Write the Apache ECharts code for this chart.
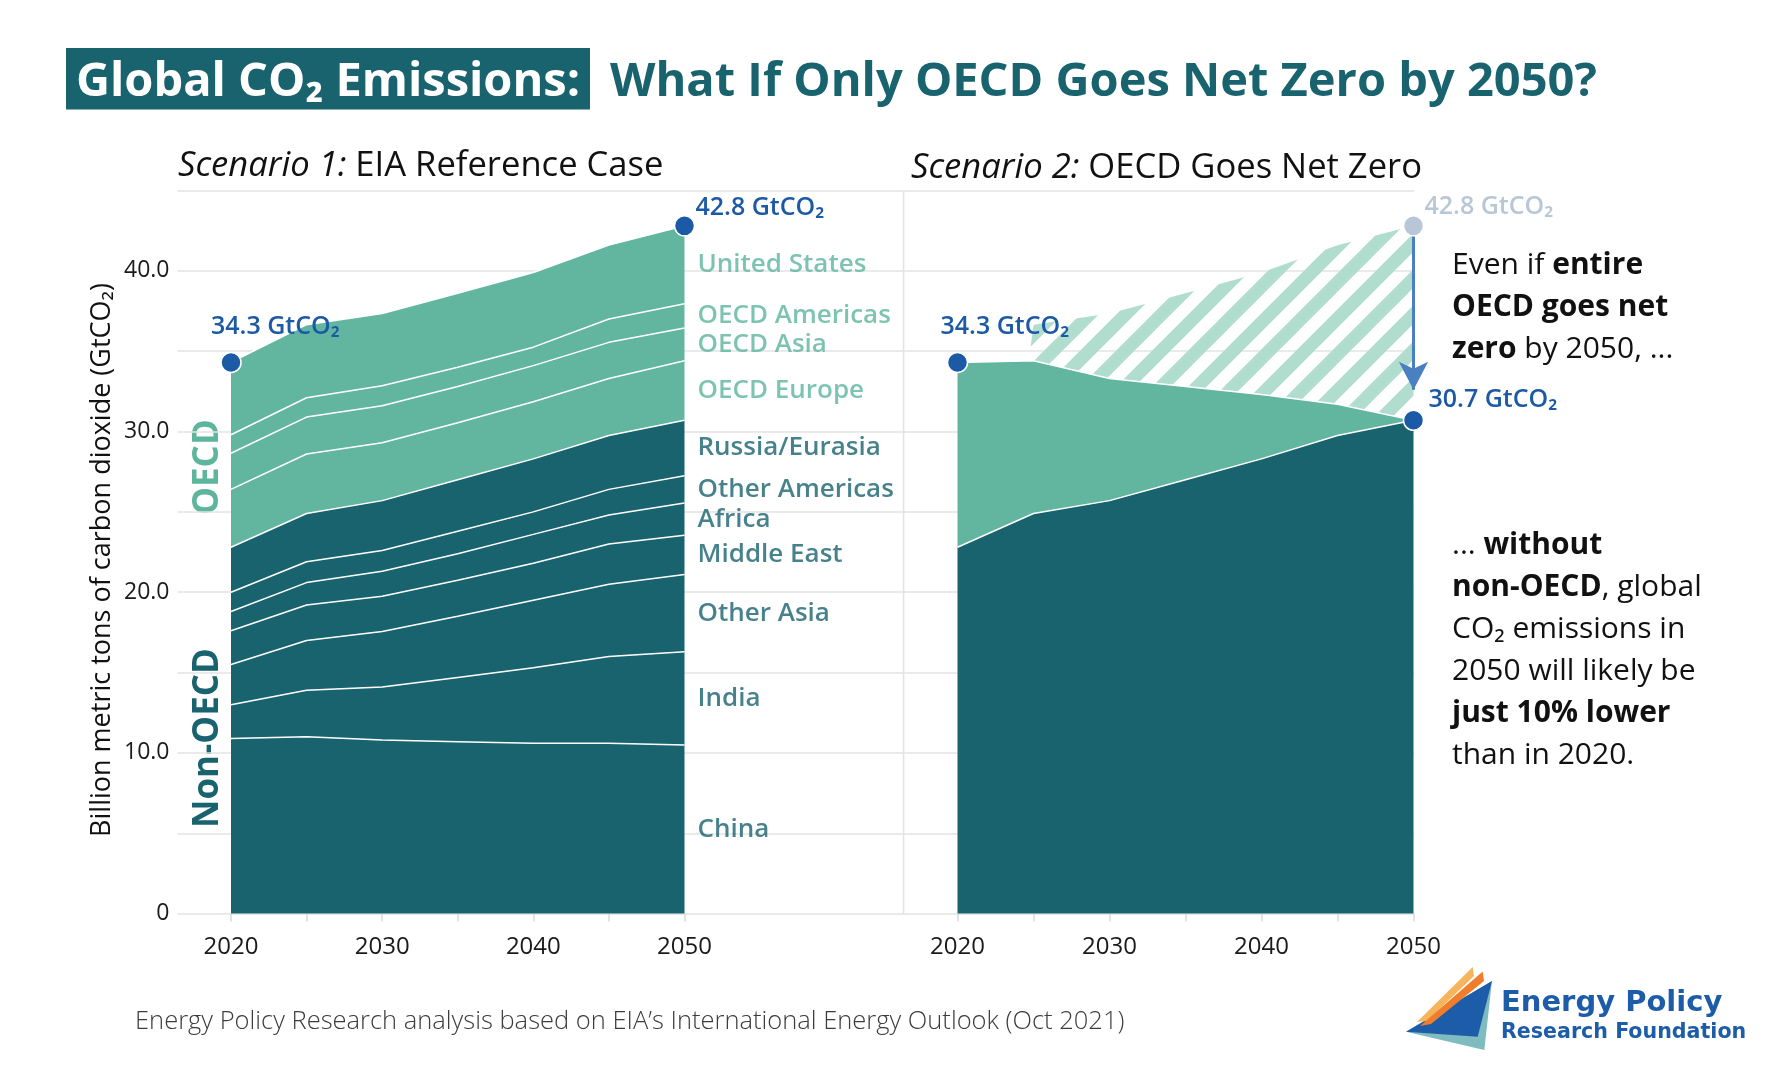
<!DOCTYPE html>
<html>
<head>
<meta charset="utf-8">
<title>Global CO2 Emissions: What If Only OECD Goes Net Zero by 2050?</title>
<script src="https://cdn.jsdelivr.net/npm/echarts@6/dist/echarts.min.js"></script>
<style>
html, body { margin: 0; padding: 0; background: #fff; }
#chart { width: 1786px; height: 1080px; }
</style>
</head>
<body>
<div id="chart"></div>
<script>
// x axis: EIA projection years
var years = ['2020', '2025', '2030', '2035', '2040', '2045', '2050'];
var yTickLabels = ['0', '10.0', '20.0', '30.0', '40.0'];

// Scenario 1 (EIA reference case), GtCO2, stacked bottom to top
var china         = [10.9, 11.0, 10.8, 10.7, 10.6, 10.6, 10.5];
var india         = [2.1, 2.9, 3.3, 4.0, 4.7, 5.4, 5.8];
var otherAsia     = [2.5, 3.1, 3.45, 3.8, 4.2, 4.5, 4.8];
var middleEast    = [2.1, 2.2, 2.2, 2.25, 2.3, 2.5, 2.45];
var africa        = [1.2, 1.4, 1.55, 1.65, 1.8, 1.8, 2.0];
var otherAmericas = [1.2, 1.3, 1.3, 1.4, 1.4, 1.6, 1.7];
var russiaEurasia = [2.8, 3.0, 3.1, 3.2, 3.3, 3.35, 3.45];
var oecdEurope    = [3.6, 3.7, 3.6, 3.55, 3.55, 3.55, 3.7];
var oecdAsia      = [2.25, 2.3, 2.3, 2.25, 2.25, 2.25, 2.05];
var oecdAmericas  = [1.15, 1.2, 1.25, 1.2, 1.15, 1.45, 1.5];
var unitedStates  = [4.5, 4.55, 4.5, 4.6, 4.65, 4.6, 4.85];

var regionNames = ['China', 'India', 'Other Asia', 'Middle East', 'Africa', 'Other Americas',
  'Russia/Eurasia', 'OECD Europe', 'OECD Asia', 'OECD Americas', 'United States'];
var isOecd = [false, false, false, false, false, false, false, true, true, true, true];

// Scenario 2: OECD emissions falling to net zero by 2050
var oecdNetZero = [11.5, 9.5, 7.6, 5.8, 4.0, 1.95, 0];

// callout values
var total2020 = 34.3;
var total2050 = 42.8;
var netZero2050 = 30.7;

var DARK = '#19636f', LIGHT = '#62b6a0', BLUE = '#1c5aa6', GREY = '#b8c7d7';
var FONT = '"Open Sans", "Noto Sans", sans-serif';

var regions = [china, india, otherAsia, middleEast, africa, otherAmericas,
  russiaEurasia, oecdEurope, oecdAsia, oecdAmericas, unitedStates];
var first = 0, last = years.length - 1;

var nonOecd = years.map(function (y, i) {
  var s = 0;
  for (var r = 0; r < regions.length; r++) if (!isOecd[r]) s += regions[r][i];
  return s;
});
var refTotal = years.map(function (y, i) {
  var s = 0;
  regions.forEach(function (r) { s += r[i]; });
  return s;
});
var avoided = years.map(function (y, i) {
  return refTotal[i] - nonOecd[i] - oecdNetZero[i];
});

// diagonal stripes for the "avoided" area
function stripes() {
  var s = 36, c = document.createElement('canvas');
  c.width = s; c.height = s;
  var ctx = c.getContext('2d');
  ctx.strokeStyle = '#b0ddce';
  ctx.lineWidth = 13;
  [0, s, 2 * s].forEach(function (k) {
    ctx.beginPath();
    ctx.moveTo(-s, k + s);
    ctx.lineTo(k + s, -s);
    ctx.stroke();
  });
  return c;
}

var series = [];

//1. scenario 1 stacked areas
regions.forEach(function (vals, r) {
  series.push({
    name: regionNames[r],
    type: 'line',
    xAxisIndex: 1, yAxisIndex: 1,
    stack: 'ref',
    data: vals,
    symbol: 'none',
    lineStyle: { color: '#fff', width: 1.5 },
    areaStyle: { color: isOecd[r] ? LIGHT : DARK, opacity: 1 },
    z: 2
  });
});

// region names at the middle of each band in 2050
var cum = 0, labelPts = [];
regions.forEach(function (vals, r) {
  labelPts.push({
    value: [last, cum + vals[last] / 2],
    label: { color: isOecd[r] ? '#5cb59c' : DARK },
    name: regionNames[r]
  });
  cum += vals[last];
});
series.push({
  type: 'scatter',
  xAxisIndex: 1, yAxisIndex: 1,
  symbolSize: 0,
  silent: true,
  data: labelPts,
  label: {
    show: true, position: 'inside', align: 'left', offset: [13, 0],
    fontFamily: FONT, fontSize: 26, fontWeight: 600,
    formatter: function (p) { return p.name; }
  },
  z: 5
});

//2. scenario 2 stacked areas
series.push({
  name: 'Non-OECD', type: 'line', xAxisIndex: 2, yAxisIndex: 2, stack: 'nz',
  data: nonOecd, symbol: 'none',
  lineStyle: { color: '#fff', width: 1.5 },
  areaStyle: { color: DARK, opacity: 1 }, z: 2
});
series.push({
  name: 'OECD', type: 'line', xAxisIndex: 2, yAxisIndex: 2, stack: 'nz',
  data: oecdNetZero, symbol: 'none',
  lineStyle: { color: '#fff', width: 1.5 },
  areaStyle: { color: LIGHT, opacity: 1 }, z: 2
});
series.push({
  name: 'Avoided', type: 'line', xAxisIndex: 2, yAxisIndex: 2, stack: 'nz',
  data: avoided, symbol: 'none',
  lineStyle: { width: 0, opacity: 0 },
  areaStyle: { color: { image: stripes(), repeat: 'repeat' }, opacity: 1 }, z: 1,
  markLine: {
    silent: true,
    symbol: ['none', 'arrow'],
    symbolSize: [22, 28],
    lineStyle: { color: '#4a80c1', width: 3, type: 'solid' },
    label: { show: false },
    data: [[{ coord: [last, total2050] }, { coord: [last, 32.6] }]]
  }
});

//3. total markers
function dot(x, y, text, color, dx, dy) {
  return {
    value: [x, y],
    itemStyle: { color: color, opacity: 1 },
    label: { formatter: text, color: color, offset: [dx, dy] }
  };
}
var dotLabel = {
  show: true, position: 'inside', align: 'left',
  fontFamily: FONT, fontSize: 25, fontWeight: 600
};
series.push({
  type: 'scatter', xAxisIndex: 1, yAxisIndex: 1,
  symbolSize: 20, silent: true,
  itemStyle: { borderColor: '#fff', borderWidth: 1.5, opacity: 1 },
  label: dotLabel,
  data: [
    dot(first, total2020, total2020 + ' GtCO₂', BLUE, -20, -36),
    dot(last, total2050, total2050 + ' GtCO₂', BLUE, 11, -18)
  ],
  z: 10
});
series.push({
  type: 'scatter', xAxisIndex: 2, yAxisIndex: 2,
  symbolSize: 20, silent: true,
  itemStyle: { borderColor: '#fff', borderWidth: 1.5, opacity: 1 },
  label: dotLabel,
  data: [
    dot(first, total2020, total2020 + ' GtCO₂', BLUE, -17, -36),
    dot(last, total2050, total2050 + ' GtCO₂', GREY, 11, -19),
    dot(last, netZero2050, netZero2050 + ' GtCO₂', BLUE, 15, -20)
  ],
  z: 10
});

function yearAxis(grid) {
  return {
    type: 'category', gridIndex: grid, data: years, boundaryGap: false,
    axisLine: { show: false },
    axisTick: { show: true, interval: 0, length: 8, lineStyle: { color: '#d9d9d9', width: 1.5 } },
    splitLine: { show: false },
    axisLabel: {
      interval: 0, margin: 22, fontFamily: FONT, fontSize: 24, color: '#1a1a1a',
      formatter: function (v) { return Number(v) % 10 === 0 ? v : ''; }
    }
  };
}
function hiddenY(grid) {
  return { type: 'value', gridIndex: grid, min: 0, max: 45, interval: 5, show: false };
}

var grids = [
  { left: 177.5, right: 372, top: 190.5, bottom: 166.4 },
  { left: 231, width: 453.5, top: 190.5, bottom: 166.4 },
  { left: 957.5, width: 456, top: 190.5, bottom: 166.4 }
];

function richLine(x, y, text) {
  return {
    type: 'text', x: x, y: y,
    style: {
      text: text, verticalAlign: 'middle', fill: '#111',
      rich: {
        n: { fontFamily: FONT, fontSize: 30, fill: '#111' },
        b: { fontFamily: FONT, fontSize: 30, fontWeight: 'bold', fill: '#111' }
      }
    }
  };
}

var graphics = [
  // headline
  { type: 'rect', shape: { x: 66, y: 48, width: 524, height: 61.5 }, style: { fill: DARK } },
  { type: 'text', x: 328, y: 82.5, style: {
      text: 'Global CO₂ Emissions:', fill: '#fff', align: 'center', verticalAlign: 'middle',
      fontFamily: FONT, fontSize: 47, fontWeight: 'bold' } },
  { type: 'text', x: 610, y: 82.5, style: {
      text: 'What If Only OECD Goes Net Zero by 2050?', fill: DARK, verticalAlign: 'middle',
      fontFamily: FONT, fontSize: 47, fontWeight: 'bold' } },
  // panel titles
  { type: 'text', x: 178, y: 166, style: {
      text: '{i|Scenario 1: }{n|EIA Reference Case}', verticalAlign: 'middle',
      rich: { i: { fontFamily: FONT, fontSize: 34.6, fontStyle: 'italic', fill: '#111' },
              n: { fontFamily: FONT, fontSize: 34.6, fill: '#111' } } } },
  { type: 'text', x: 911, y: 168, style: {
      text: '{i|Scenario 2: }{n|OECD Goes Net Zero}', verticalAlign: 'middle',
      rich: { i: { fontFamily: FONT, fontSize: 34.6, fontStyle: 'italic', fill: '#111' },
              n: { fontFamily: FONT, fontSize: 34.6, fill: '#111' } } } },
  // divider between panels
  { type: 'line', shape: { x1: 903.6, y1: 191, x2: 903.6, y2: 914 },
    style: { stroke: '#e3e3e3', lineWidth: 1.5 } },
  // axis title and group labels
  { type: 'text', x: 102, y: 560, rotation: Math.PI / 2, style: {
      text: 'Billion metric tons of carbon dioxide (GtCO₂)', align: 'center', verticalAlign: 'middle',
      fontFamily: FONT, fontSize: 27, fill: '#111' } },
  { type: 'text', x: 208, y: 467, rotation: Math.PI / 2, style: {
      text: 'OECD', align: 'center', verticalAlign: 'middle',
      fontFamily: FONT, fontSize: 35, fontWeight: 'bold', fill: '#5cb59c' } },
  { type: 'text', x: 208, y: 738, rotation: Math.PI / 2, style: {
      text: 'Non-OECD', align: 'center', verticalAlign: 'middle',
      fontFamily: FONT, fontSize: 35, fontWeight: 'bold', fill: DARK } },
  // commentary
  richLine(1452, 265, '{n|Even if }{b|entire}'),
  richLine(1452, 307, '{b|OECD goes net}'),
  richLine(1452, 349, '{b|zero}{n| by 2050, ...}'),
  richLine(1452, 545, '{n|... }{b|without}'),
  richLine(1452, 587, '{b|non-OECD}{n|, global}'),
  richLine(1452, 629, '{n|CO₂ emissions in}'),
  richLine(1452, 671, '{n|2050 will likely be}'),
  richLine(1452, 713, '{b|just 10% lower}'),
  richLine(1452, 755, '{n|than in 2020.}'),
  // source
  { type: 'text', x: 135, y: 1022, style: {
      text: 'Energy Policy Research analysis based on EIA’s International Energy Outlook (Oct 2021)',
      verticalAlign: 'middle', fontFamily: FONT, fontSize: 25.5, fontWeight: 300, fill: '#3c3c3c' } },
  // logo
  { type: 'polygon', shape: { points: [[1406, 1031.7], [1492, 981], [1484.3, 1050]] }, style: { fill: '#7fbcc0' } },
  { type: 'polygon', shape: { points: [[1406, 1031.7], [1492, 981], [1477.7, 1036.7]] }, style: { fill: '#1d5ca8' } },
  { type: 'polygon', shape: { points: [[1417, 1022], [1472.7, 967], [1474, 976], [1427, 1021]] }, style: { fill: '#f6b45c' } },
  { type: 'polygon', shape: { points: [[1420, 1026], [1482.7, 971.5], [1484, 981], [1431, 1024]] }, style: { fill: '#ef7d2b' } },
  { type: 'text', x: 1501, y: 1003, style: {
      text: 'Energy Policy', verticalAlign: 'middle',
      fontFamily: '"DejaVu Sans", sans-serif', fontSize: 29, fontWeight: 'bold', fill: '#1d5ca8' } },
  { type: 'text', x: 1501, y: 1033, style: {
      text: 'Research Foundation', verticalAlign: 'middle',
      fontFamily: '"DejaVu Sans", sans-serif', fontSize: 20.6, fontWeight: 'bold', fill: '#1d5ca8' } }
];

var chart = echarts.init(document.getElementById('chart'));
chart.setOption({
  backgroundColor: '#fff',
  animation: false,
  grid: grids,
  xAxis: [
    { type: 'value', gridIndex: 0, min: 0, max: 1, show: false },
    yearAxis(1),
    yearAxis(2)
  ],
  yAxis: [
    {
      type: 'value', gridIndex: 0, min: 0, max: 45, interval: 5,
      axisLine: { show: false }, axisTick: { show: false },
      splitLine: { lineStyle: { color: '#e3e3e3', width: 1.5 } },
      axisLabel: {
        margin: 8, fontFamily: FONT, fontSize: 23, color: '#1a1a1a',
        formatter: function (v) { return v % 10 === 0 ? yTickLabels[v / 10] : ''; }
      }
    },
    hiddenY(1),
    hiddenY(2)
  ],
  series: series,
  graphic: graphics
});
</script>
</body>
</html>
